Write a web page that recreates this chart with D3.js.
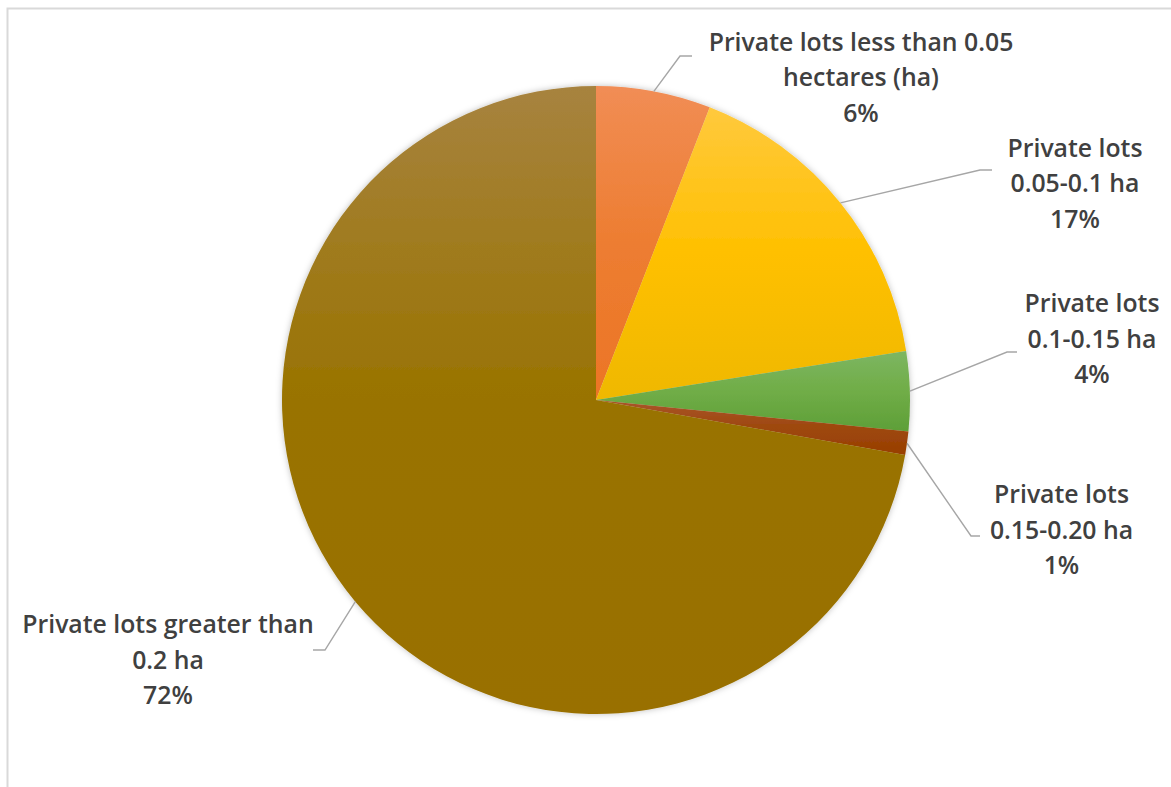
<!DOCTYPE html>
<html>
<head>
<meta charset="utf-8">
<script src="https://cdn.jsdelivr.net/npm/d3@7"></script>
<style>
  html, body { margin: 0; padding: 0; background: #ffffff; }
  svg { display: block; }
</style>
</head>
<body>
<svg id="chart" width="1171" height="787"></svg>
<script>
// ---- data ----
const categories = [
  "Private lots less than 0.05 hectares (ha)",
  "Private lots 0.05-0.1 ha",
  "Private lots 0.1-0.15 ha",
  "Private lots 0.15-0.20 ha",
  "Private lots greater than 0.2 ha"
];
const values = [5.9, 16.6, 4.1, 1.2, 72.2];
const colors = ["#ED7D31", "#FFC000", "#70AD47", "#9E480E", "#997300"];
const labelLines = [
  ["Private lots less than 0.05", "hectares (ha)"],
  ["Private lots", "0.05-0.1 ha"],
  ["Private lots", "0.1-0.15 ha"],
  ["Private lots", "0.15-0.20 ha"],
  ["Private lots greater than", "0.2 ha"]
];

// ---- style / layout ----
const gradTop    = ["#F18D55", "#FFC93D", "#7DB662", "#A9552A", "#A7833F"];
const gradBottom = ["#EC7526", "#EFB800", "#5E9F38", "#983E00", "#997000"];
const cx = 596, cy = 400, r = 314;
const labelAnchor = [[861, 50.7], [1075, 156.7], [1092, 312.3], [1061.5, 503.3], [168, 633.3]];
const leaderElbow = [[680, 56], [980, 170], [1007, 352], [971, 536], [325, 650]];
const leaderEnd   = [[692, 56], [992, 170], [1017, 352], [980, 536], [313, 650]];
const lineGap = 35.5;

const svg = d3.select("#chart");
const defs = svg.append("defs");

// chart border
svg.append("rect")
  .attr("x", 7.5).attr("y", 8.5)
  .attr("width", 1300).attr("height", 900)
  .attr("fill", "none").attr("stroke", "#d9d9d9").attr("stroke-width", 2);

// shadow filter
const f = defs.append("filter").attr("id", "shadow")
  .attr("x", "-10%").attr("y", "-10%").attr("width", "120%").attr("height", "120%");
f.append("feDropShadow").attr("dx", 0).attr("dy", 0)
  .attr("stdDeviation", 3).attr("flood-color", "#000").attr("flood-opacity", 0.25);

// gradients
colors.forEach((c, i) => {
  const g = defs.append("linearGradient").attr("id", "grad" + i)
    .attr("x1", 0).attr("y1", 0).attr("x2", 0).attr("y2", 1);
  g.append("stop").attr("offset", "0%").attr("stop-color", gradTop[i]);
  g.append("stop").attr("offset", "50%").attr("stop-color", c);
  g.append("stop").attr("offset", "100%").attr("stop-color", gradBottom[i]);
});

const total = d3.sum(values);
const pie = d3.pie().sort(null).value(d => d)(values);
const arc = d3.arc().innerRadius(0).outerRadius(r);

const gPie = svg.append("g").attr("transform", `translate(${cx},${cy})`)
  .attr("filter", "url(#shadow)");
gPie.selectAll("path").data(pie).join("path")
  .attr("d", arc)
  .attr("fill", (d, i) => `url(#grad${i})`);

// leader lines
pie.forEach((d, i) => {
  const a = (d.startAngle + d.endAngle) / 2;
  const sx = cx + r * Math.sin(a), sy = cy - r * Math.cos(a);
  svg.append("polyline")
    .attr("points", [[sx, sy], leaderElbow[i], leaderEnd[i]].map(p => p.join(",")).join(" "))
    .attr("fill", "none").attr("stroke", "#a6a6a6").attr("stroke-width", 1.4);
});

// labels
const fmt = v => Math.round(v / total * 100) + "%";
pie.forEach((d, i) => {
  const lines = labelLines[i].concat([fmt(d.value)]);
  const t = svg.append("text")
    .attr("text-anchor", "middle")
    .attr("font-family", "'Open Sans', 'Noto Sans', sans-serif")
    .attr("font-weight", 600)
    .attr("font-size", 24.8)
    .attr("fill", "#404040");
  lines.forEach((ln, j) => {
    t.append("tspan").attr("x", labelAnchor[i][0]).attr("y", labelAnchor[i][1] + j * lineGap).text(ln);
  });
});
</script>
</body>
</html>
